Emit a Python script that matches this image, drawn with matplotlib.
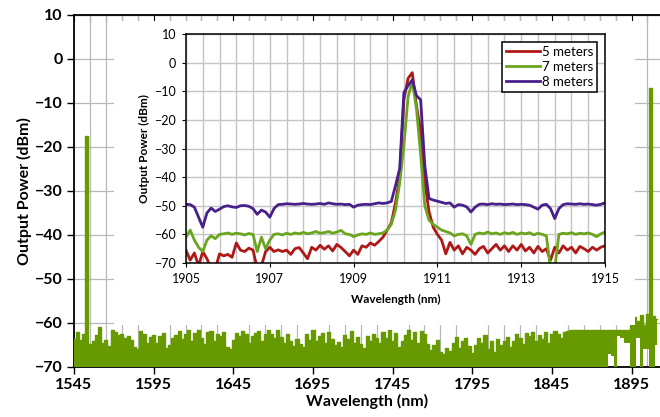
import numpy as np
import matplotlib.pyplot as plt
from matplotlib.ticker import FixedLocator

plt.rcParams['font.family'] = ['Lato', 'DejaVu Sans']

# Full spectrum (2 nm sampling), top of the trace in dBm
full_top = [
    -63.6, -62.0, -63.8, -62.5, -17.5, -64.8, -64.0, -62.8, -60.8, -64.5,
    -63.8, -65.2, -61.5, -62.0, -62.8, -62.5, -63.5, -63.0, -63.8, -65.5,
    -65.8, -61.8, -62.5, -64.5, -63.2, -62.8, -64.5, -63.0, -62.2, -65.6,
    -65.0, -63.5, -62.8, -61.8, -63.6, -62.5, -61.6, -64.0, -62.2, -61.5,
    -63.5, -64.8, -62.0, -61.8, -64.2, -62.5, -63.0, -62.0, -65.5, -66.0,
    -63.8, -62.2, -63.0, -61.9, -62.5, -64.6, -63.0, -62.2, -61.8, -64.0,
    -62.6, -61.6, -62.4, -63.5, -61.5, -63.2, -64.5, -62.6, -64.0, -65.2,
    -63.6, -64.8, -65.4, -62.5, -63.8, -61.6, -64.2, -63.0, -62.2, -64.6,
    -62.0, -63.6, -65.0, -64.4, -65.5, -62.8, -63.6, -61.9, -64.5, -63.2,
    -64.8, -65.6, -63.0, -64.2, -62.4, -63.5, -64.6, -62.0, -63.3, -61.7,
    -64.0, -62.2, -65.5, -64.2, -62.8, -61.5, -63.8, -62.0, -64.5, -61.8,
    -62.5, -64.8, -66.2, -65.0, -63.8, -66.5, -67.0, -65.6, -66.4, -64.5,
    -63.2, -65.6, -64.0, -63.5, -65.2, -66.8, -65.0, -63.4, -64.5, -62.8,
    -65.8, -64.2, -66.5, -63.6, -65.0, -64.0, -63.2, -65.5, -64.0, -62.6,
    -63.5, -64.8, -62.2, -63.0, -62.0, -64.2, -62.8, -63.6, -62.0, -64.5,
    -62.6, -61.8, -62.5, -63.4, -62.0, -61.8, -61.6, -61.7, -61.7, -61.7,
    -61.7, -61.7, -61.7, -61.7, -61.7, -61.7, -61.7, -61.7, -61.7, -61.7,
    -61.7, -61.7, -61.7, -61.7, -61.7, -58.0, -58.6, -59.5, -58.2, -60.5,
    -58.0, -6.5, -58.5, -59.0,
]
full_wl = np.arange(1545, 1545 + 2 * len(full_top), 2)
# where the trace does not reach the bottom of the axis
floor_gaps = {1881: -67.0, 1883: -67.5, 1887: -63.0, 1889: -63.5,
              1891: -64.5, 1893: -64.5, 1899: -63.5, 1903: -66.0,
              1905: -66.0, 1911: -65.0}
full_floor = np.array([floor_gaps.get(int(w), -70.0) for w in full_wl])

# Zoomed spectra, 0.1 nm sampling from 1905 to 1915 nm
zoom_wl = np.round(np.arange(1905.0, 1915.05, 0.1), 1)
p5m = [
    -65.5, -69.0, -66.5, -71.0, -66.0, -68.5, -72.0, -72.0, -66.8, -67.5,
    -67.0, -68.0, -63.0, -65.5, -66.0, -64.8, -65.5, -72.0, -71.0, -66.0,
    -64.5, -66.0, -65.4, -66.0, -65.5, -67.0, -65.0, -64.6, -66.5, -68.5,
    -64.5, -65.5, -63.8, -65.2, -64.0, -65.8, -63.5, -64.6, -66.0, -67.5,
    -65.5, -67.0, -64.0, -64.5, -63.0, -63.8, -62.5, -61.0, -58.5, -56.0,
    -49.0, -40.0, -13.0, -5.5, -3.5, -15.0, -24.0, -42.0, -52.0, -57.5,
    -60.0, -62.0, -66.8, -62.8, -65.5, -64.0, -66.8, -64.5, -65.5, -67.0,
    -65.0, -64.2, -66.5, -65.0, -63.5, -65.5, -64.0, -66.0, -64.0, -65.5,
    -63.5, -65.8, -64.5, -66.5, -64.2, -66.0, -65.0, -69.0, -64.5, -66.5,
    -64.0, -65.5, -64.5, -66.5, -64.2, -65.0, -66.0, -64.5, -65.5, -64.5,
    -64.0,
]
p7m = [
    -61.0, -58.5, -62.0, -64.5, -66.0, -62.0, -60.5, -61.5, -60.0, -59.8,
    -59.5, -60.0, -59.6, -59.8, -60.2, -59.7, -60.0, -66.0, -61.0, -65.0,
    -62.0, -60.0, -59.8, -60.2, -59.6, -60.0, -59.5, -59.8, -59.3, -59.8,
    -59.5, -59.0, -59.6, -59.4, -59.0, -59.6, -59.2, -58.6, -59.8, -60.0,
    -60.8, -60.2, -59.8, -60.0, -59.5, -60.0, -59.8, -59.5, -58.5, -56.5,
    -51.5, -42.0, -29.0, -12.0, -6.5, -16.0, -32.0, -50.0, -55.0, -56.5,
    -57.5, -58.5, -59.0, -59.5, -60.5, -60.0, -59.8, -60.5, -63.5, -60.0,
    -59.5, -59.8, -59.2, -59.8, -59.5, -60.0, -59.4, -59.8, -59.3, -60.0,
    -59.5, -59.8, -59.4, -60.2, -59.6, -60.0, -60.5, -72.0, -72.0, -60.0,
    -59.6, -59.8, -59.4, -60.0, -59.6, -59.8, -59.5, -60.0, -60.8, -59.8,
    -59.2,
]
p8m = [
    -49.5, -49.6, -50.5, -54.0, -57.5, -52.5, -50.8, -52.0, -51.2, -50.3,
    -50.0, -50.4, -50.6, -50.0, -49.9, -50.2, -51.0, -53.0, -51.5, -52.2,
    -54.0, -51.0, -49.6, -49.5, -49.3, -49.4, -49.5, -49.4, -49.2, -49.4,
    -49.5, -49.4, -49.2, -49.5, -49.0, -49.3, -49.5, -49.4, -49.6, -49.5,
    -50.5, -49.8, -49.6, -49.5, -49.6, -49.3, -49.0, -49.2, -49.0, -48.5,
    -43.0, -37.0, -10.5, -8.0, -6.0, -11.5, -13.0, -36.0, -47.5, -48.0,
    -48.4, -48.8, -49.2, -49.0, -50.5, -49.6, -49.8, -50.4, -52.2, -50.5,
    -49.5, -49.4, -49.6, -49.3, -49.5, -49.4, -49.6, -49.5, -49.4, -49.6,
    -49.5, -49.6, -49.8, -50.5, -51.2, -49.8, -49.5, -51.0, -54.5, -51.0,
    -49.6, -49.3, -49.4, -49.5, -49.3, -49.5, -49.4, -49.6, -49.8, -49.5,
    -49.0,
]
series_labels = ['5 meters', '7 meters', '8 meters']
series_colors = ['#b01818', '#6aa51e', '#48208c']

main_xticks = [1545, 1595, 1645, 1695, 1745, 1795, 1845, 1895]
zoom_xticks = [1905, 1907, 1909, 1911, 1913, 1915]
grid_col = '#b8b8b8'
green = '#669a00'

W, H = 660, 417
fig = plt.figure(figsize=(6.6, 4.17), dpi=100)

# main chart
ax = fig.add_axes([74 / W, 1 - 367 / H, (W - 74) / W, (367 - 15) / H], zorder=0)
ax.fill_between(full_wl, full_floor, full_top, step='mid', color=green,
                lw=0, antialiased=False, zorder=3)
ax.plot(full_wl, full_top, drawstyle='steps-mid', color=green, lw=1.0, zorder=3)
ax.set_xlim(1545, 1545 + (W - 74) / 1.593)
ax.set_ylim(-70, 10)
ax.set_xticks(main_xticks)
ax.set_yticks(range(-70, 11, 10))
ax.xaxis.set_minor_locator(FixedLocator(np.arange(1545, 1915, 10)))
ax.grid(True, which='minor', axis='x', color=grid_col, lw=0.9)
ax.grid(True, which='major', axis='y', color=grid_col, lw=0.9)
ax.set_axisbelow(True)
ax.tick_params(which='major', length=5, width=1, labelsize=11.5, pad=3)
ax.tick_params(which='minor', length=0)
for lab in ax.get_xticklabels() + ax.get_yticklabels():
    lab.set_fontweight('bold')
for s in ['left', 'top', 'bottom']:
    ax.spines[s].set_linewidth(1.3)
ax.spines['right'].set_visible(False)
top = ax.secondary_xaxis('top')
top.set_xticks(np.arange(1545, 1915, 10))
top.tick_params(direction='in', length=4, width=0.8, labeltop=False)
ax.set_xlabel('Wavelength (nm)', fontsize=11.5, fontweight='bold', labelpad=1)
ax.set_ylabel('Output Power (dBm)', fontsize=11.5, fontweight='bold', labelpad=2)

# white area behind the inset
bg = fig.add_axes([114 / W, 1 - 325 / H, (635 - 114) / W, (325 - 21) / H], zorder=1)
bg.set_facecolor('white')
bg.set_xticks([])
bg.set_yticks([])
for s in bg.spines.values():
    s.set_visible(False)

# inset
ins = fig.add_axes([186 / W, 1 - 263 / H, 419 / W, 229 / H], zorder=2)
for y, lab, col in zip([p5m, p7m, p8m], series_labels, series_colors):
    ins.plot(zoom_wl, y, color=col, lw=2.0, label=lab)
ins.set_xlim(1905, 1915)
ins.set_ylim(-70, 10)
ins.set_xticks(zoom_xticks)
ins.set_yticks(range(-70, 11, 10))
ins.xaxis.set_minor_locator(FixedLocator(np.arange(1905, 1915.01, 0.4)))
ins.grid(True, which='both', color='#c4c4c4', lw=1)
ins.set_axisbelow(True)
ins.tick_params(which='major', length=3, width=0.8, labelsize=9, pad=4)
ins.tick_params(which='minor', length=0)
for s in ins.spines.values():
    s.set_linewidth(1.1)
ins.set_xlabel('Wavelength (nm)', fontsize=8.5, fontweight='bold', labelpad=7)
ins.set_ylabel('Output Power (dBm)', fontsize=8.5, fontweight='bold', labelpad=3)
leg = ins.legend(loc='upper right', bbox_to_anchor=(1 - 8 / 419, 1 - 8 / 229),
                 borderaxespad=0, fontsize=9.5, frameon=True, fancybox=False,
                 framealpha=1, edgecolor='black', handlelength=2.6,
                 handletextpad=0.1, labelspacing=0.22, borderpad=0.3)
leg.get_frame().set_linewidth(1.1)

fig.savefig('out.png', dpi=100)
